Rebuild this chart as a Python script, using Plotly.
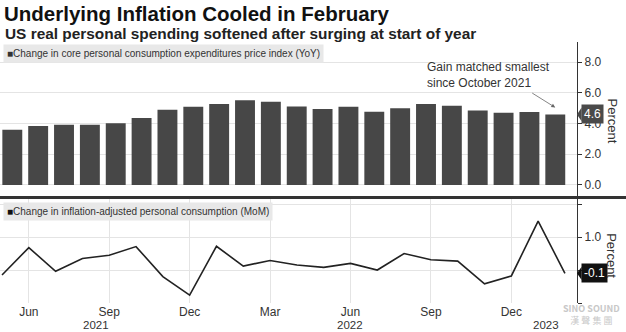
import plotly.graph_objects as go

# Monthly observations, May 2021 - Feb 2023
months = ["2021-05", "2021-06", "2021-07", "2021-08", "2021-09", "2021-10",
          "2021-11", "2021-12", "2022-01", "2022-02", "2022-03", "2022-04",
          "2022-05", "2022-06", "2022-07", "2022-08", "2022-09", "2022-10",
          "2022-11", "2022-12", "2023-01", "2023-02"]

# Core PCE price index, % change YoY
core_pce_yoy = [3.6, 3.85, 3.93, 3.92, 4.02, 4.36, 4.91, 5.1, 5.28, 5.52, 5.43, 5.12,
                4.95, 5.1, 4.78, 5.0, 5.28, 5.17, 4.86, 4.71, 4.75, 4.6]

# Real personal consumption, % change MoM
real_pce_mom = [-0.15, 0.68, -0.04, 0.35, 0.45, 0.71, -0.2, -0.76, 0.72, 0.12, 0.29, 0.15,
                0.08, 0.2, 0.0, 0.5, 0.31, 0.27, -0.42, -0.18, 1.48, -0.1]

tick_months = ["2021-06", "2021-09", "2021-12", "2022-03", "2022-06", "2022-09", "2022-12"]
tick_names = ["Jun", "Sep", "Dec", "Mar", "Jun", "Sep", "Dec"]
year_labels = ["2021", "2022", "2023"]
year_pos = [3.5, 13.0, 20.3]

idx = list(range(len(months)))
tick_idx = [months.index(m) for m in tick_months]

BAR = "#474747"
GRID = "#e4e4e4"
AXIS = "#333333"
FONT = "Liberation Sans"

fig = go.Figure()

fig.add_trace(go.Bar(x=idx, y=core_pce_yoy, xaxis="x3", yaxis="y2",
                     marker=dict(color=BAR, line=dict(width=0)), width=0.77,
                     showlegend=False, hoverinfo="skip"))

fig.add_trace(go.Scatter(x=idx, y=real_pce_mom, xaxis="x", yaxis="y", mode="lines",
                         line=dict(color="#222222", width=1.6),
                         showlegend=False, hoverinfo="skip"))

x_range = [-0.075, 21.45]

fig.update_layout(
    width=626, height=332,
    margin=dict(l=0, r=49, t=42, b=29),
    paper_bgcolor="white", plot_bgcolor="white",
    font=dict(family=FONT, color="#333333"),
    xaxis=dict(domain=[0, 1], anchor="y", range=x_range,
               tickvals=tick_idx, ticktext=tick_names, ticks="",
               tickfont=dict(size=12, color="#333333"),
               showgrid=True, gridcolor=GRID, gridwidth=1, zeroline=False, showline=False),
    yaxis=dict(domain=[0, 0.398], side="right", range=[-1.0, 2.15],
               tickvals=[-1, 0, 1, 2], ticktext=["", "", "1.0", ""],
               ticks="outside", ticklen=4, tickcolor=AXIS,
               tickfont=dict(size=12, color="#333333"),
               showgrid=True, gridcolor=GRID, zeroline=False,
               showline=True, linecolor=AXIS, linewidth=1.2),
    xaxis2=dict(domain=[0, 1], anchor="y2", range=x_range,
                tickvals=tick_idx, showticklabels=False, ticks="",
                showgrid=True, gridcolor=GRID, zeroline=False, showline=False),
    yaxis2=dict(domain=[0.41, 1], anchor="x2", side="right", range=[-0.72, 9.32],
                tickvals=[0, 2, 4, 6, 8], tickformat=".1f",
                ticks="outside", ticklen=4, tickcolor=AXIS,
                tickfont=dict(size=12, color="#333333"),
                showgrid=True, gridcolor=GRID, zeroline=False,
                showline=True, linecolor=AXIS, linewidth=1.2),
    xaxis3=dict(overlaying="x2", anchor="y2", range=[-0.476, 21.84], visible=False),
)

ann = []
# title and subtitle
ann.append(dict(text="<b>Underlying Inflation Cooled in February</b>",
                xref="paper", yref="paper", x=3 / 577, y=(303 - 0.5) / 261,
                xanchor="left", yanchor="top", showarrow=False, borderpad=0,
                font=dict(family=FONT, size=20.5, color="#111111")))
ann.append(dict(text="<b>US real personal spending softened after surging at start of year</b>",
                xref="paper", yref="paper", x=3 / 577, y=(303 - 22.5) / 261,
                xanchor="left", yanchor="top", showarrow=False,
                font=dict(family=FONT, size=15.4, color="#222222")))
# panel legends
ann.append(dict(text="<span style='color:#333'>■</span>Change in core personal consumption expenditures price index (YoY)",
                xref="paper", yref="paper", x=3 / 577, y=(303 - 44) / 261,
                xanchor="left", yanchor="top", showarrow=False, align="left",
                bgcolor="#e8e8e8", borderpad=3,
                font=dict(family=FONT, size=10, color="#333333")))
ann.append(dict(text="<span style='color:#111'>■</span>Change in inflation-adjusted personal consumption (MoM)",
                xref="paper", yref="paper", x=3 / 577, y=(303 - 202) / 261,
                xanchor="left", yanchor="top", showarrow=False, align="left",
                bgcolor="#e8e8e8", borderpad=3,
                font=dict(family=FONT, size=10, color="#333333")))
# callout on latest bar
ann.append(dict(text="Gain matched smallest<br>since October 2021",
                xref="paper", yref="y2", x=425 / 577, y=8.3,
                xanchor="left", yanchor="top", showarrow=False, align="left",
                font=dict(family=FONT, size=12, color="#333333")))
ann.append(dict(text="", xref="x3", yref="y2", x=idx[-1], y=core_pce_yoy[-1] + 0.45,
                axref="x3", ayref="y2", ax=idx[-1] - 0.95, ay=core_pce_yoy[-1] + 1.45,
                showarrow=True, arrowhead=2, arrowsize=1, arrowwidth=0.8, arrowcolor="#666666"))
# last-value tags
ann.append(dict(text=f"{core_pce_yoy[-1]:.1f}", xref="paper", yref="y2", x=1.0, y=core_pce_yoy[-1],
                xanchor="left", yanchor="middle", xshift=4, showarrow=False,
                bgcolor="#4a4a4a", borderpad=2,
                font=dict(family=FONT, size=12, color="white")))
ann.append(dict(text=f"{real_pce_mom[-1]:.1f}", xref="paper", yref="y", x=1.0, y=real_pce_mom[-1],
                xanchor="left", yanchor="middle", xshift=4, showarrow=False,
                bgcolor="#111111", borderpad=2,
                font=dict(family=FONT, size=12, color="white")))
# axis titles
ann.append(dict(text="Percent", xref="paper", yref="y2", x=612 / 577, y=4.2,
                xanchor="center", yanchor="middle", textangle=90, showarrow=False,
                font=dict(family=FONT, size=13, color="#333333")))
ann.append(dict(text="Percent", xref="paper", yref="y", x=612 / 577, y=0.45,
                xanchor="center", yanchor="middle", textangle=90, showarrow=False,
                font=dict(family=FONT, size=13, color="#333333")))
# year labels
for yl, xp in zip(year_labels, year_pos):
    ann.append(dict(text=yl, xref="x", yref="paper", x=xp, y=(303 - 324.5) / 261,
                    xanchor="center", yanchor="middle", showarrow=False, borderpad=0,
                    font=dict(family=FONT, size=11.5, color="#333333")))
# source mark
ann.append(dict(text="<b>SINO SOUND</b><br>漢 聲 集 團", xref="paper", yref="paper",
                x=622 / 577, y=(303 - 300) / 261, xanchor="right", yanchor="top",
                showarrow=False, align="center",
                font=dict(family="Noto Sans CJK TC", size=9, color="#c8c8c8")))
fig.update_layout(annotations=ann)

shapes = []
# separator between panels
shapes.append(dict(type="line", xref="paper", yref="paper",
                   x0=0, x1=626 / 577, y0=(303 - 197.5) / 261, y1=(303 - 197.5) / 261,
                   line=dict(color="#333333", width=3)))
# tag pointers
shapes.append(dict(type="path", xref="paper", yref="y2",
                   path=f"M {1.0} {core_pce_yoy[-1]} L {1.008} {core_pce_yoy[-1] + 0.45} L {1.008} {core_pce_yoy[-1] - 0.45} Z",
                   fillcolor="#4a4a4a", line=dict(width=0)))
shapes.append(dict(type="path", xref="paper", yref="y",
                   path=f"M {1.0} {real_pce_mom[-1]} L {1.008} {real_pce_mom[-1] + 0.2} L {1.008} {real_pce_mom[-1] - 0.2} Z",
                   fillcolor="#111111", line=dict(width=0)))
fig.update_layout(shapes=shapes)

fig.write_html("out.html")
